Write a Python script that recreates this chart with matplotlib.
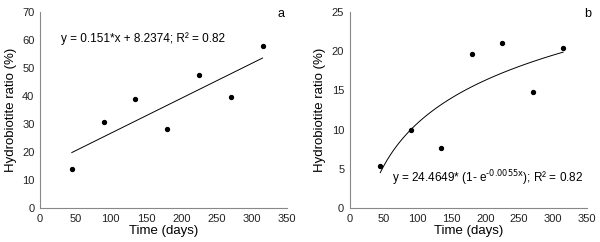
import numpy as np
import matplotlib.pyplot as plt

plt.rcParams['font.family'] = ['Liberation Sans', 'DejaVu Sans']
plt.rcParams['mathtext.default'] = 'regular'

days = np.array([45, 90, 135, 180, 225, 270, 315])
ratio_a = np.array([14.0, 30.8, 38.8, 28.2, 47.6, 39.6, 57.7])
ratio_b = np.array([5.4, 9.9, 7.7, 19.6, 21.1, 14.8, 20.4])

eq_a = "y = 0.151*x + 8.2374; R² = 0.82"
eq_b = "y = 24.4649* (1- e$^{\\text{-0.0055x}}$); R² = 0.82"

fig = plt.figure(figsize=(6, 2.42), dpi=100)
ax1 = fig.add_axes([0.0667, 0.1405, 0.412, 0.81])
ax2 = fig.add_axes([0.583, 0.1405, 0.395, 0.81])


def style(ax, ymax, ystep):
    ax.set_xlim(0, 350)
    ax.set_ylim(0, ymax)
    ax.set_xticks(np.arange(0, 351, 50))
    ax.set_yticks(np.arange(0, ymax + 1, ystep))
    for s in ['top', 'right']:
        ax.spines[s].set_visible(False)
    for s in ['left', 'bottom']:
        ax.spines[s].set_color('#888888')
        ax.spines[s].set_linewidth(0.8)
    ax.tick_params(length=0, labelsize=8, colors='#222222', pad=4)
    ax.set_xlabel("Time (days)", fontsize=9.5, labelpad=1)
    ax.set_ylabel("Hydrobiotite ratio (%)", fontsize=9.5, labelpad=4)


# panel a: linear trend
style(ax1, 70, 10)
ax1.scatter(days, ratio_a, s=8, color='black', zorder=3)
p = np.polyfit(days, ratio_a, 1)
xx = np.linspace(days.min(), days.max(), 100)
ax1.plot(xx, np.polyval(p, xx), color='black', lw=0.7)
ax1.text(30, 60.5, eq_a, fontsize=8.5, va='center')
ax1.text(0.99, 1.02, "a", transform=ax1.transAxes, fontsize=9, ha='right', va='top')

# panel b: logarithmic trend
style(ax2, 25, 5)
ax2.scatter(days, ratio_b, s=8, color='black', zorder=3)
q = np.polyfit(np.log(days), ratio_b, 1)
ax2.plot(xx, np.polyval(q, np.log(xx)), color='black', lw=0.7)
ax2.text(63, 3.8, eq_b, fontsize=8.5, va='center')
ax2.text(1.02, 1.02, "b", transform=ax2.transAxes, fontsize=9, ha='right', va='top')

fig.savefig("out.png", dpi=100)
